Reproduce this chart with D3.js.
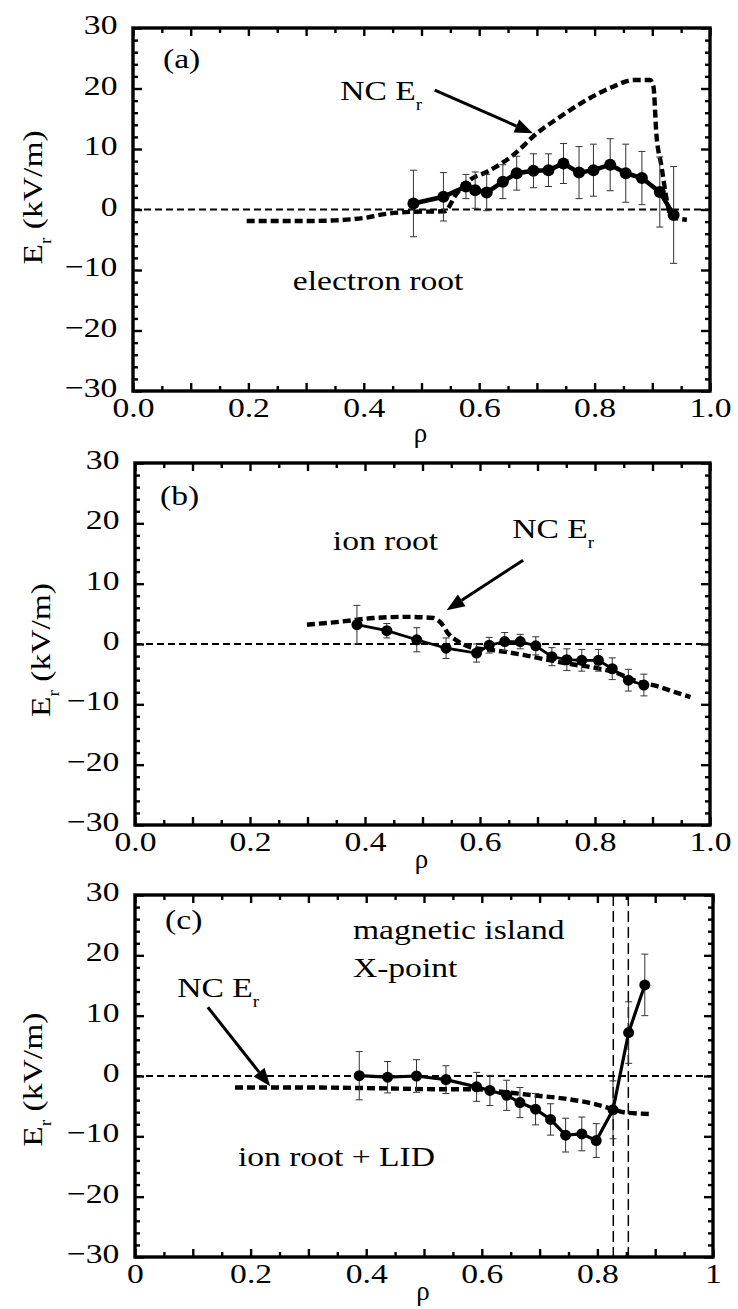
<!DOCTYPE html>
<html>
<head>
<meta charset="utf-8">
<script src="https://cdn.jsdelivr.net/npm/d3@7"></script>
<style>
  body { margin: 0; background: #fff; }
  svg { display: block; }
  text { font-family: "Liberation Serif", "Times New Roman", serif; fill: #000; }
</style>
</head>
<body>
<div id="chart"></div>
<script>
// ---------- values ----------
// (a) electron root
const rhoA = [0.486, 0.538, 0.577, 0.593, 0.613, 0.641, 0.665, 0.694, 0.72, 0.746, 0.773, 0.798, 0.827, 0.854, 0.882, 0.913, 0.937];
const erA  = [1.0, 2.1, 3.8, 3.2, 2.8, 4.6, 6.0, 6.4, 6.5, 7.6, 6.1, 6.5, 7.4, 6.0, 5.2, 2.9, -0.9];
const errA = [5.5, 4.0, 2.0, 3.0, 3.0, 2.8, 2.8, 2.8, 2.7, 3.3, 4.3, 4.3, 4.3, 4.8, 4.4, 5.8, 8.0];
const ncRhoA = [0.197, 0.3, 0.35, 0.4, 0.44, 0.48, 0.54, 0.56, 0.584, 0.613, 0.659, 0.70, 0.74, 0.786, 0.832, 0.867, 0.896, 0.902, 0.907, 0.916, 0.925, 0.933, 0.96];
const ncA    = [-1.9, -1.9, -1.8, -1.4, -0.7, -0.4, -0.3, 2.5, 4.9, 6.2, 9.0, 12.6, 15.3, 18.1, 20.3, 21.4, 21.4, 20.3, 12.6, 7.1, 1.6, -1.2, -1.7];

// (b) ion root
const rhoB = [0.386, 0.438, 0.49, 0.541, 0.594, 0.616, 0.643, 0.67, 0.697, 0.725, 0.751, 0.777, 0.806, 0.83, 0.858, 0.885];
const erB  = [3.2, 2.2, 0.7, -0.7, -1.5, -0.2, 0.4, 0.4, -0.3, -2.1, -2.6, -2.7, -2.7, -4.1, -6.0, -6.8];
const errB = [3.2, 1.2, 2.0, 1.7, 1.5, 1.3, 1.5, 1.2, 1.5, 1.5, 1.8, 1.8, 1.8, 1.8, 1.8, 1.8];
const ncRhoB = [0.299, 0.357, 0.414, 0.472, 0.519, 0.533, 0.545, 0.559, 0.583, 0.629, 0.675, 0.716, 0.762, 0.803, 0.838, 0.873, 0.908, 0.943, 0.966];
const ncB    = [3.2, 3.7, 4.3, 4.5, 4.3, 3.4, 1.7, 0.6, -0.5, -1.1, -1.8, -2.6, -3.4, -4.0, -4.8, -6.2, -7.0, -8.1, -8.8];

// (c) ion root + LID
const rhoC = [0.388, 0.437, 0.487, 0.538, 0.591, 0.614, 0.643, 0.666, 0.693, 0.719, 0.745, 0.773, 0.798, 0.827, 0.854, 0.882];
const erC  = [0.05, -0.2, 0.0, -0.6, -1.8, -2.4, -3.2, -4.4, -5.5, -7.2, -9.8, -9.6, -10.7, -5.6, 7.2, 15.1];
const errC = [4.0, 2.6, 2.7, 2.3, 2.4, 2.5, 2.5, 2.5, 2.6, 2.6, 2.8, 2.8, 2.8, 4.8, 5.1, 5.1];
const ncRhoC = [0.173, 0.285, 0.4, 0.539, 0.59, 0.643, 0.689, 0.747, 0.793, 0.827, 0.845, 0.891];
const ncC    = [-1.9, -1.9, -2.0, -2.2, -2.2, -2.7, -3.2, -3.8, -4.6, -5.5, -6.0, -6.3];
const islandRho = [0.8275, 0.8535];   // magnetic island X-point boundaries

// axes
const yTicks = [30, 20, 10, 0, -10, -20, -30];
const xTicks = [0, 0.2, 0.4, 0.6, 0.8, 1.0];
const xLabelsAB = ["0.0", "0.2", "0.4", "0.6", "0.8", "1.0"];
const xLabelsC  = ["0", "0.2", "0.4", "0.6", "0.8", "1"];

// ---------- layout ----------
const W = 738, H = 1309;
const STRETCH = 1.2;   // the printed font is wider than Times

const panels = [
  { left: 133, top: 28, right: 710, bottom: 391, rho: rhoA, er: erA, err: errA, ncRho: ncRhoA, nc: ncA,
    xLabels: xLabelsAB, rhoBase: 51, ylabX: 42, ylabE: 2, lineW: 4.5, dotR: 6,
    texts: [{t: "(a)", x: 0.052, y: 23.4}, {t: "electron root", x: 0.277, y: -13.3}],
    nc_label: {x: 0.359, y: 18.1}, arrow: [[0.523, 19.75], [0.693, 12.6]] },
  { left: 135, top: 463, right: 710, bottom: 825, rho: rhoB, er: erB, err: errB, ncRho: ncRhoB, nc: ncB,
    xLabels: xLabelsAB, rhoBase: 43, ylabX: 50, ylabE: -1, lineW: 2.8, dotR: 5.5,
    texts: [{t: "(b)", x: 0.0435, y: 23.0}, {t: "ion root", x: 0.344, y: 15.6}],
    nc_label: {x: 0.656, y: 17.6}, arrow: [[0.675, 13.9], [0.542, 5.6]] },
  { left: 135, top: 895, right: 713, bottom: 1257, rho: rhoC, er: erC, err: errC, ncRho: ncRhoC, nc: ncC,
    xLabels: xLabelsC, rhoBase: 43, ylabX: 42, ylabE: -0.6, lineW: 3.2, dotR: 5.5,
    texts: [{t: "(c)", x: 0.052, y: 24.4}, {t: "magnetic island", x: 0.377, y: 22.7},
            {t: "X-point", x: 0.377, y: 16.4}, {t: "ion root + LID", x: 0.178, y: -14.9}],
    nc_label: {x: 0.073, y: 13.1}, arrow: [[0.126, 11.4], [0.234, -1.7]], island: islandRho }
];

const svg = d3.select('#chart').append('svg')
  .attr('width', W)
  .attr('height', H);

function putText(g, px, py, size) {
  return g.append('text')
    .attr('transform', `translate(${px},${py}) scale(${STRETCH},1)`)
    .attr('font-size', size);
}

function ncLabel(g, px, py) {
  const t = putText(g, px, py, 28);
  t.append('tspan').text('NC E');
  t.append('tspan').attr('font-size', 16).attr('dy', 10).text('r');
}

function drawPanel(p) {
  const g = svg.append('g');
  const x = d3.scaleLinear().domain([0, 1]).range([p.left, p.right]);
  const y = d3.scaleLinear().domain([-30, 30]).range([p.bottom, p.top]);

  const xMajor = d3.range(0, 1.0001, 0.1).map(d => +d.toFixed(2));
  const xMinor = d3.range(0.05, 1, 0.1).map(d => +d.toFixed(2));
  const yMinor = d3.range(-28, 30, 2).filter(d => d % 10 !== 0);

  const fmtX = d => {
    const i = xTicks.findIndex(v => Math.abs(v - d) < 1e-6);
    return i >= 0 ? p.xLabels[i] : '';
  };

  // inward ticks on all four sides
  const axes = [
    [d3.axisBottom(x).tickValues(xMajor).tickSize(-8).tickFormat(fmtX), `translate(0,${p.bottom})`, 'xb'],
    [d3.axisBottom(x).tickValues(xMinor).tickSize(-5).tickFormat(''), `translate(0,${p.bottom})`, ''],
    [d3.axisTop(x).tickValues(xMajor).tickSize(-8).tickFormat(''), `translate(0,${p.top})`, ''],
    [d3.axisTop(x).tickValues(xMinor).tickSize(-5).tickFormat(''), `translate(0,${p.top})`, ''],
    [d3.axisLeft(y).tickValues(yTicks).tickSize(-9).tickFormat(d3.format('d')), `translate(${p.left},0)`, 'yl'],
    [d3.axisLeft(y).tickValues(yMinor).tickSize(-5).tickFormat(''), `translate(${p.left},0)`, ''],
    [d3.axisRight(y).tickValues(yTicks).tickSize(-9).tickFormat(''), `translate(${p.right},0)`, ''],
    [d3.axisRight(y).tickValues(yMinor).tickSize(-5).tickFormat(''), `translate(${p.right},0)`, '']
  ];
  axes.forEach(([ax, tr, cls]) => {
    const a = g.append('g').attr('transform', tr).attr('class', cls).call(ax);
    a.select('.domain').remove();
    a.selectAll('.tick line').attr('stroke', '#000').attr('stroke-width', 2.4);
  });

  g.select('.xb').selectAll('.tick text')
    .attr('font-family', '"Liberation Serif", "Times New Roman", serif')
    .attr('font-size', 28)
    .attr('fill', '#000')
    .attr('y', 26)
    .attr('dy', 0)
    .attr('transform', `scale(${STRETCH},1)`);

  g.select('.yl').selectAll('.tick text')
    .attr('font-family', '"Liberation Serif", "Times New Roman", serif')
    .attr('font-size', 28)
    .attr('fill', '#000')
    .attr('x', -13)
    .attr('y', -4)
    .attr('dy', '0.34em')
    .attr('transform', `scale(${STRETCH},1)`);

  // frame
  g.append('rect')
    .attr('x', p.left).attr('y', p.top)
    .attr('width', p.right - p.left).attr('height', p.bottom - p.top)
    .attr('fill', 'none').attr('stroke', '#000').attr('stroke-width', 3.4);

  // zero line
  g.append('line')
    .attr('x1', x(0)).attr('x2', x(1))
    .attr('y1', y(0)).attr('y2', y(0))
    .attr('stroke', '#000').attr('stroke-width', 2)
    .attr('stroke-dasharray', '7,4');

  // magnetic island X-point boundaries
  if (p.island) {
    g.selectAll('.island').data(p.island).join('line')
      .attr('class', 'island')
      .attr('x1', d => x(d)).attr('x2', d => x(d))
      .attr('y1', y(30)).attr('y2', y(-30))
      .attr('stroke', '#000').attr('stroke-width', 1.5)
      .attr('stroke-dasharray', '11,5');
  }

  // neoclassical Er
  const nc = p.ncRho.map((r, i) => [r, p.nc[i]]);
  g.append('path')
    .datum(nc)
    .attr('d', d3.line().x(d => x(d[0])).y(d => y(d[1])).curve(d3.curveMonotoneX))
    .attr('fill', 'none').attr('stroke', '#000').attr('stroke-width', 4.4)
    .attr('stroke-dasharray', '8,4');

  // measured Er with error bars
  const pts = p.rho.map((r, i) => ({r: r, e: p.er[i], s: p.err[i]}));
  const eb = g.selectAll('.eb').data(pts).join('g').attr('class', 'eb');
  eb.append('line')
    .attr('x1', d => x(d.r)).attr('x2', d => x(d.r))
    .attr('y1', d => y(d.e + d.s)).attr('y2', d => y(d.e - d.s))
    .attr('stroke', '#333').attr('stroke-width', 1);
  eb.selectAll('.cap').data(d => [[d.r, d.e + d.s], [d.r, d.e - d.s]]).join('line')
    .attr('class', 'cap')
    .attr('x1', d => x(d[0]) - 3.5).attr('x2', d => x(d[0]) + 3.5)
    .attr('y1', d => y(d[1])).attr('y2', d => y(d[1]))
    .attr('stroke', '#333').attr('stroke-width', 1);

  g.append('path')
    .datum(pts)
    .attr('d', d3.line().x(d => x(d.r)).y(d => y(d.e)))
    .attr('fill', 'none').attr('stroke', '#000').attr('stroke-width', p.lineW);

  g.selectAll('.pt').data(pts).join('circle')
    .attr('class', 'pt')
    .attr('cx', d => x(d.r)).attr('cy', d => y(d.e))
    .attr('r', p.dotR).attr('fill', '#000');

  // arrow pointing at NC Er
  const [a0, a1] = p.arrow;
  const x0 = x(a0[0]), y0 = y(a0[1]), x1 = x(a1[0]), y1 = y(a1[1]);
  const ang = Math.atan2(y1 - y0, x1 - x0);
  const hl = 18, hw = 7;
  const bx = x1 - hl * Math.cos(ang), by = y1 - hl * Math.sin(ang);
  g.append('line')
    .attr('x1', x0).attr('y1', y0).attr('x2', bx).attr('y2', by)
    .attr('stroke', '#000').attr('stroke-width', 3);
  g.append('path')
    .attr('d', `M${x1},${y1}L${bx + hw * Math.sin(ang)},${by - hw * Math.cos(ang)}L${bx - hw * Math.sin(ang)},${by + hw * Math.cos(ang)}Z`)
    .attr('fill', '#000');

  // annotations
  p.texts.forEach(d => putText(g, x(d.x), y(d.y), 28).text(d.t));
  ncLabel(g, x(p.nc_label.x), y(p.nc_label.y));

  // axis titles
  g.append('text')
    .attr('transform', `translate(${x(0.5) - 1},${p.bottom + p.rhoBase})`)
    .attr('text-anchor', 'middle')
    .attr('font-family', '"DejaVu Sans", sans-serif')
    .attr('font-size', 27)
    .text('ρ');

  const yl = g.append('text')
    .attr('transform', `translate(${p.ylabX},${y(p.ylabE)}) rotate(-90) scale(${STRETCH},1)`)
    .attr('text-anchor', 'middle')
    .attr('font-size', 28);
  yl.append('tspan').text('E');
  yl.append('tspan').attr('font-size', 16).attr('dy', 9).text('r');
  yl.append('tspan').attr('dy', -9).text(' (kV/m)');
}

panels.forEach(drawPanel);
</script>
</body>
</html>
